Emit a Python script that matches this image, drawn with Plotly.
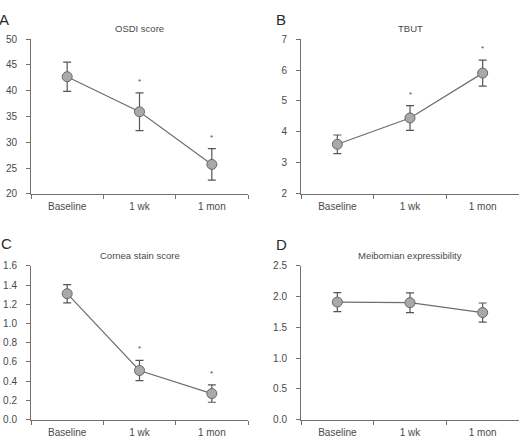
import plotly.graph_objects as go

categories = ["Baseline", "1 wk", "1 mon"]

titles = ["OSDI score", "TBUT", "Cornea stain score", "Meibomian expressibility"]
letters = ["A", "B", "C", "D"]

osdi_mean = [42.7, 35.9, 25.7]
osdi_err = [2.85, 3.65, 3.05]
osdi_sig = [False, True, True]

tbut_mean = [3.6, 4.45, 5.9]
tbut_err = [0.3, 0.4, 0.42]
tbut_sig = [False, True, True]

stain_mean = [1.31, 0.51, 0.27]
stain_err = [0.095, 0.105, 0.09]
stain_sig = [False, True, True]

meib_mean = [1.91, 1.90, 1.74]
meib_err = [0.155, 0.16, 0.155]
meib_sig = [False, False, False]

y_ranges = [[20, 50], [2, 7], [0, 1.6], [0, 2.5]]
y_dticks = [5, 1, 0.2, 0.5]
y_formats = ["d", "d", ".1f", ".1f"]

panels = [
    (osdi_mean, osdi_err, osdi_sig),
    (tbut_mean, tbut_err, tbut_sig),
    (stain_mean, stain_err, stain_sig),
    (meib_mean, meib_err, meib_sig),
]

W, H = 525, 445
# pixel boxes (x0, x1, ytop, ybottom)
boxes = [
    (31, 248, 34, 193),
    (301, 519, 34, 193),
    (31, 248, 267, 425),
    (301, 519, 267, 425),
]
# letter positions (left x, top y) in pixels
letter_pos = [(-3, 3), (274, 3), (-1, 233), (274, 234)]

axis_color = "#707070"
text_color = "#4a4a4a"
font_family = "Liberation Sans, Arial, sans-serif"

fig = go.Figure()
annotations = []

for i, ((mean, err, sig), (x0, x1, yt, yb)) in enumerate(zip(panels, boxes)):
    n = i + 1
    xa = "x" if n == 1 else f"x{n}"
    ya = "y" if n == 1 else f"y{n}"
    fig.add_trace(go.Scatter(
        x=categories, y=mean, xaxis=xa, yaxis=ya,
        mode="lines+markers",
        line=dict(color="#6e6e6e", width=1.2),
        marker=dict(size=10, color="#a9a9a9", line=dict(color="#666666", width=1)),
        error_y=dict(type="data", array=err, visible=True, color="#555555",
                     thickness=1.2, width=4),
        showlegend=False, hoverinfo="skip",
    ))
    xdom = [x0 / W, x1 / W]
    ydom = [(H - yb) / H, (H - yt) / H]
    fig.layout[f"xaxis{'' if n == 1 else n}"] = dict(
        domain=xdom, anchor=ya, type="category",
        range=[-0.5, 2.5], showgrid=False, zeroline=False,
        showline=True, linecolor=axis_color, linewidth=1,
        ticks="outside", tickson="boundaries", ticklen=4, tickcolor=axis_color,
        ticklabelstandoff=3,
        tickfont=dict(size=10, color=text_color, family=font_family),
        fixedrange=True,
    )
    fig.layout[f"yaxis{'' if n == 1 else n}"] = dict(
        domain=ydom, anchor=xa, range=y_ranges[i], dtick=y_dticks[i],
        tick0=y_ranges[i][0], tickformat=y_formats[i],
        showgrid=False, zeroline=False,
        showline=True, linecolor=axis_color, linewidth=1,
        ticks="outside", ticklen=4, tickcolor=axis_color,
        ticklabelstandoff=7,
        tickfont=dict(size=10, color=text_color, family=font_family),
        fixedrange=True,
    )
    # title
    annotations.append(dict(
        text=titles[i], x=(x0 + x1) / 2 / W, y=(H - yt + 3) / H,
        xref="paper", yref="paper", xanchor="center", yanchor="bottom",
        showarrow=False, font=dict(size=9.5, color=text_color, family=font_family),
    ))
    # letter
    lx, ly = letter_pos[i]
    annotations.append(dict(
        text=letters[i], x=lx / W, y=(H - ly) / H,
        xref="paper", yref="paper", xanchor="left", yanchor="top",
        showarrow=False, font=dict(size=15, color="#2a2a2a", family=font_family),
    ))
    # asterisks
    for c, m, e, s in zip(categories, mean, err, sig):
        if s:
            annotations.append(dict(
                text="*", x=c, y=m + e, xref=xa, yref=ya,
                xanchor="center", yanchor="bottom", yshift=5,
                showarrow=False, font=dict(size=8, color=text_color, family=font_family),
            ))

fig.update_layout(
    width=W, height=H, margin=dict(l=0, r=0, t=0, b=0),
    paper_bgcolor="white", plot_bgcolor="white",
    annotations=annotations,
)

fig.write_html("out.html")
